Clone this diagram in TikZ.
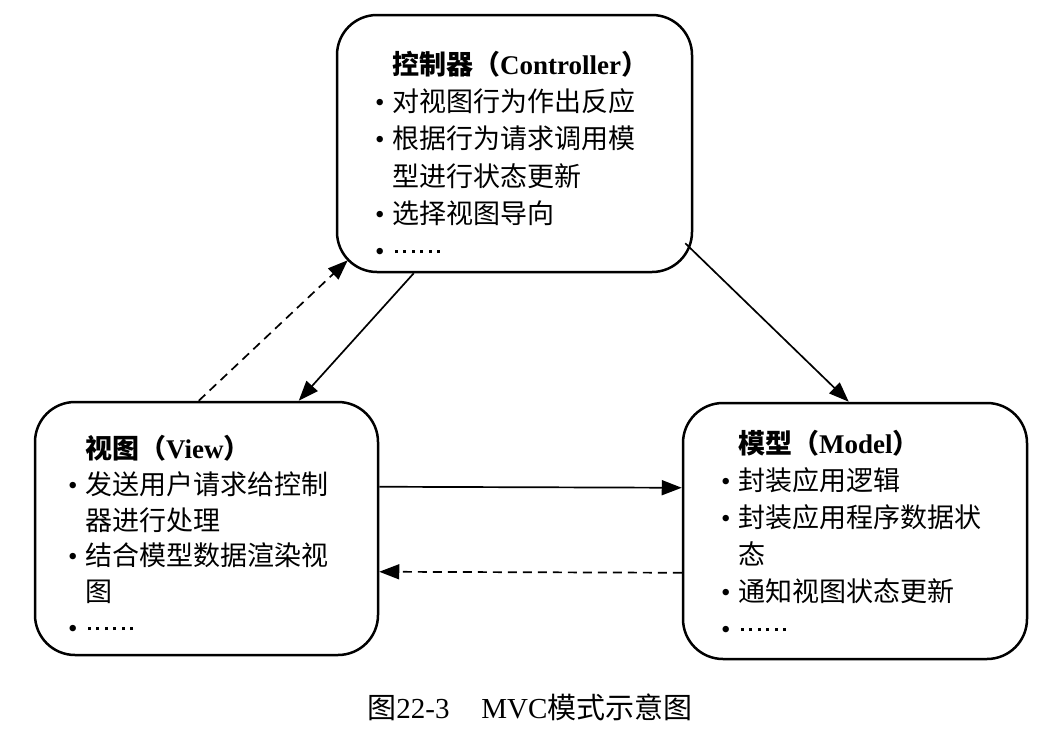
\documentclass[tikz,border=0pt]{standalone}
\usepackage{fontspec}
\setmainfont{Liberation Serif}
\newfontfamily\cjk{Noto Sans CJK SC}
\usetikzlibrary{arrows.meta,calc}
\newcommand{\bul}{\makebox[23pt][l]{\hspace{6pt}{\rmfamily •}}}
\newcommand{\ind}{\hspace*{23pt}}
\newcommand{\onedot}{\makebox[8.4pt][c]{\rule[7.5pt]{3pt}{3pt}}}
\newcommand{\dotrow}{\onedot\onedot\onedot\onedot\onedot\onedot}
\begin{document}
\begin{tikzpicture}[x=1pt,y=-1pt,
  box/.style={draw, line width=2.5pt, rounded corners=40pt, inner sep=0pt},
  body/.style={anchor=north west, inner sep=0pt, align=left},
  conn/.style={line width=1.7pt, -{Triangle[length=20pt,width=15pt]}},
  dconn/.style={conn, dash pattern=on 9pt off 6pt}]
\useasboundingbox (0,0) rectangle (1061,734);
\fill[white] (0,0) rectangle (1061,734);
% boxes
\node[box, minimum width=355pt, minimum height=257pt] (ctrl) at (514.5,143.5) {};
\node[box, minimum width=343pt, minimum height=253pt] (view) at (206.5,528.5) {};
\node[box, minimum width=344pt, minimum height=256pt] (model) at (855,531) {};
% texts
\node[body, font=\cjk\fontsize{27}{37.2}\selectfont] (ctrltext) at (369,51) {%
\ind{\bfseries 控制器（{\rmfamily Controller}）}\\
\bul 对视图行为作出反应\\
\bul 根据行为请求调用模\\
\ind 型进行状态更新\\
\bul 选择视图导向\\
\bul \dotrow};
\node[body, font=\cjk\fontsize{27}{35.8}\selectfont] (viewtext) at (62,435) {%
\ind{\bfseries 视图（{\rmfamily View}）}\\
\bul 发送用户请求给控制\\
\ind 器进行处理\\
\bul 结合模型数据渲染视\\
\ind 图\\
\bul \dotrow};
\node[body, font=\cjk\fontsize{27}{37}\selectfont] (modeltext) at (715,430) {%
\ind{\bfseries 模型（{\rmfamily Model}）}\\
\bul 封装应用逻辑\\
\bul 封装应用程序数据状\\
\ind 态\\
\bul 通知视图状态更新\\
\bul \dotrow};
% caption
\node[anchor=base, inner sep=0pt, font=\fontsize{29}{34}\selectfont] (cap) at (530,718)
  {{\cjk 图}22-3\hspace{1.1em}MVC{\cjk 模式示意图}};
% connectors
\draw[conn] ($(ctrl.south west)+(78,0)$) -- ($(view.north west)+(265,0)$);
\draw[dconn] ($(view.north west)+(165,0)$) -- ($(ctrl.south west)+(12,-13)$);
\draw[conn] ($(ctrl.south east)+(-8,-30)$) -- ($(model.north west)+(167,0)$);
\draw[conn] ($(view.north east)+(0,86)$) -- ($(model.north west)+(0,86)$);
\draw[dconn] ($(model.north west)+(0,171)$) -- ($(view.north east)+(0,171)$);
\end{tikzpicture}
\end{document}
